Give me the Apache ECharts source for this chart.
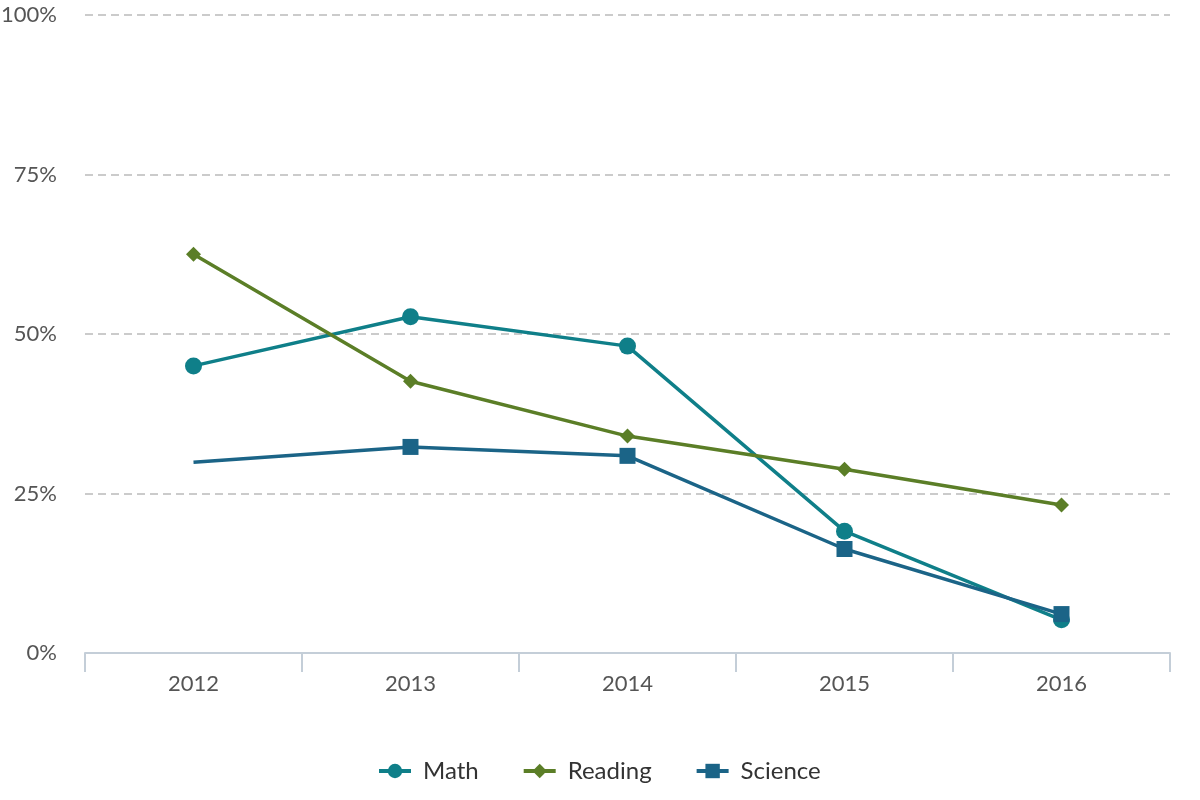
<!DOCTYPE html>
<html>
<head>
<meta charset="utf-8">
<script src="https://cdn.jsdelivr.net/npm/echarts@6/dist/echarts.min.js"></script>
<style>html,body{margin:0;padding:0;background:#fff}#c{width:1200px;height:800px}</style>
</head>
<body>
<div id="c"></div>
<script>
const categories = ['2012', '2013', '2014', '2015', '2016'];
const mathValues = [45.0, 52.7, 48.1, 19.1, 5.2];
const readingValues = [62.5, 42.6, 34.0, 28.8, 23.2];
const scienceValues = [29.9, 32.3, 30.9, 16.3, 6.1];
const yTicks = [0, 25, 50, 75, 100];

const font = 'Lato, sans-serif';
const chart = echarts.init(document.getElementById('c'));
chart.setOption({
  animation: false,
  textStyle: { fontFamily: font },
  grid: { left: 85, right: 30, top: 15, bottom: 147, containLabel: false, outerBoundsMode: 'none' },
  legend: {
    left: 372,
    bottom: 12,
    itemWidth: 32,
    itemHeight: 18,
    itemGap: 43,
    lineStyle: { width: 4 },
    textStyle: { fontSize: 24, color: '#333', fontFamily: font, padding: [0, 0, 0, 7] },
    data: ['Math', 'Reading', 'Science']
  },
  xAxis: {
    type: 'category',
    data: categories,
    boundaryGap: true,
    axisLine: { lineStyle: { color: '#c4ced8', width: 2 } },
    axisTick: { show: true, length: 19, lineStyle: { color: '#c4ced8', width: 2 } },
    axisLabel: { fontSize: 22, color: '#555', margin: 20, fontFamily: font }
  },
  yAxis: {
    type: 'value',
    min: yTicks[0],
    max: yTicks[yTicks.length - 1],
    interval: 25,
    axisLine: { show: false },
    axisTick: { show: false },
    axisLabel: { fontSize: 22, color: '#555', margin: 28, formatter: '{value}%', fontFamily: font },
    splitLine: { lineStyle: { color: '#bbb', type: [8, 5], width: 1.5 } }
  },
  series: [
    {
      name: 'Math', type: 'line', data: mathValues,
      symbol: 'circle', symbolSize: 17,
      lineStyle: { width: 3.5, color: '#0f7f89' },
      itemStyle: { color: '#0f7f89' }
    },
    {
      name: 'Reading', type: 'line', data: readingValues,
      symbol: 'diamond', symbolSize: 15,
      lineStyle: { width: 3.5, color: '#5b7e27' },
      itemStyle: { color: '#5b7e27' }
    },
    {
      name: 'Science', type: 'line',
      data: scienceValues.map((v, i) => i === 0 ? { value: v, symbol: 'none' } : v),
      symbol: 'rect', symbolSize: 16,
      lineStyle: { width: 3.5, color: '#1b6487' },
      itemStyle: { color: '#1b6487' }
    }
  ]
});
</script>
</body>
</html>
